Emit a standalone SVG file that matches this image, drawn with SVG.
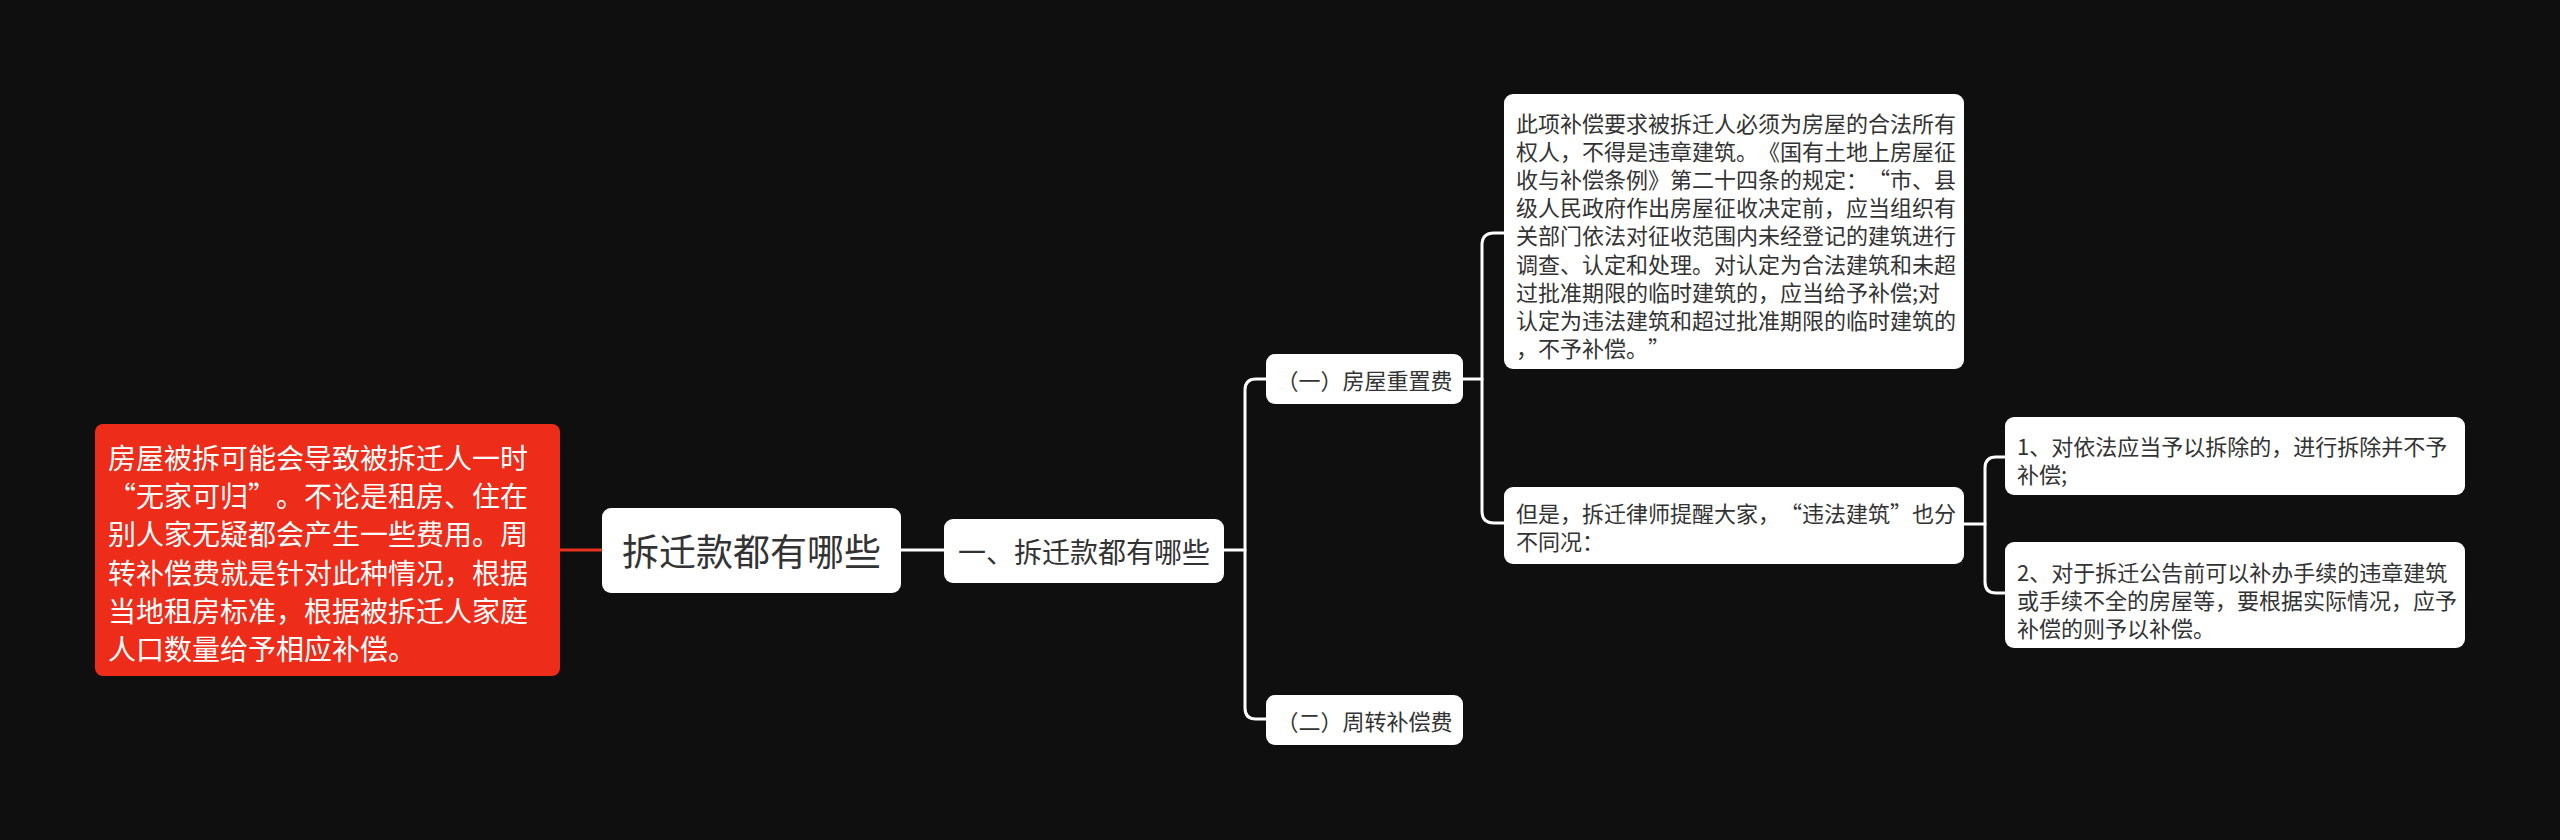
<svg xmlns="http://www.w3.org/2000/svg" width="2560" height="840" viewBox="0 0 2560 840">
<style>
.bg{fill:#0f0f0f}
.node{fill:#ffffff}
.t{font-family:"Noto Sans CJK SC","Noto Sans",sans-serif;fill:#333333;dominant-baseline:central;text-spacing-trim:space-all}
.q{font-feature-settings:"fwid" 1}
.w{fill:#ffffff}
.c{fill:none;stroke:#ffffff;stroke-width:3;stroke-linecap:round;stroke-linejoin:round}
.cr{fill:none;stroke:#e8321e;stroke-width:3}
</style>
<rect class="bg" x="0" y="0" width="2560" height="840"/>
<g id="connectors">
<path class="cr" d="M560 550 H602"/>
<path class="c" d="M901 550 H944"/>
<path class="c" d="M1224 550 H1245"/>
<path class="c" d="M1266 379 H1256 Q1245 379 1245 390 V708 Q1245 719 1256 719 H1266"/>
<path class="c" d="M1463 379 H1482"/>
<path class="c" d="M1504 233 H1494 Q1482 233 1482 245 V511 Q1482 523 1494 523 H1504"/>
<path class="c" d="M1964 524 H1985"/>
<path class="c" d="M2005 457 H1996 Q1985 457 1985 468 V582 Q1985 593 1996 593 H2005"/>
</g>
<g id="node-red">
<rect x="95" y="424" width="465" height="252" rx="8" fill="#ee2c1a"/>
<text class="t w" font-size="28" x="108"><tspan x="108" y="457">房屋被拆可能会导致被拆迁人一时</tspan><tspan x="108" y="495" class="q">“无家可归”。不论是租房、住在</tspan><tspan x="108" y="533">别人家无疑都会产生一些费用。周</tspan><tspan x="108" y="572">转补偿费就是针对此种情况，根据</tspan><tspan x="108" y="610">当地租房标准，根据被拆迁人家庭</tspan><tspan x="108" y="648">人口数量给予相应补偿。</tspan></text>
</g>
<g id="node-root">
<rect class="node" x="602" y="508" width="299" height="85" rx="9"/>
<text class="t" font-size="37" x="751.5" y="550" text-anchor="middle">拆迁款都有哪些</text>
</g>
<g id="node-1">
<rect class="node" x="944" y="519" width="280" height="64" rx="9"/>
<text class="t" font-size="28" x="1084" y="551" text-anchor="middle">一、拆迁款都有哪些</text>
</g>
<g id="node-1-1">
<rect class="node" x="1266" y="354" width="197" height="50" rx="9"/>
<text class="t" font-size="22" x="1364.5" y="379" text-anchor="middle">（一）房屋重置费</text>
</g>
<g id="node-1-2">
<rect class="node" x="1266" y="695" width="197" height="50" rx="9"/>
<text class="t" font-size="22" x="1364.5" y="720" text-anchor="middle">（二）周转补偿费</text>
</g>
<g id="node-1-1-1">
<rect class="node" x="1504" y="94" width="460" height="275" rx="9"/>
<text class="t" font-size="22" x="1516"><tspan x="1516" y="122">此项补偿要求被拆迁人必须为房屋的合法所有</tspan><tspan x="1516" y="150">权人，不得是违章建筑。《国有土地上房屋征</tspan><tspan x="1516" y="178" class="q">收与补偿条例》第二十四条的规定：“市、县</tspan><tspan x="1516" y="206">级人民政府作出房屋征收决定前，应当组织有</tspan><tspan x="1516" y="234">关部门依法对征收范围内未经登记的建筑进行</tspan><tspan x="1516" y="263">调查、认定和处理。对认定为合法建筑和未超</tspan><tspan x="1516" y="291">过批准期限的临时建筑的，应当给予补偿;对</tspan><tspan x="1516" y="319">认定为违法建筑和超过批准期限的临时建筑的</tspan><tspan x="1516" y="347" class="q">，不予补偿。”</tspan></text>
</g>
<g id="node-1-1-2">
<rect class="node" x="1504" y="487" width="460" height="77" rx="9"/>
<text class="t q" font-size="22" x="1516"><tspan x="1516" y="512">但是，拆迁律师提醒大家，“违法建筑”也分</tspan><tspan x="1516" y="540">不同况：</tspan></text>
</g>
<g id="node-a">
<rect class="node" x="2005" y="417" width="460" height="78" rx="9"/>
<text class="t" font-size="22" x="2017"><tspan x="2017" y="445">1、对依法应当予以拆除的，进行拆除并不予</tspan><tspan x="2017" y="473">补偿;</tspan></text>
</g>
<g id="node-b">
<rect class="node" x="2005" y="542" width="460" height="106" rx="9"/>
<text class="t" font-size="22" x="2017"><tspan x="2017" y="571">2、对于拆迁公告前可以补办手续的违章建筑</tspan><tspan x="2017" y="599">或手续不全的房屋等，要根据实际情况，应予</tspan><tspan x="2017" y="627">补偿的则予以补偿。</tspan></text>
</g>
</svg>
